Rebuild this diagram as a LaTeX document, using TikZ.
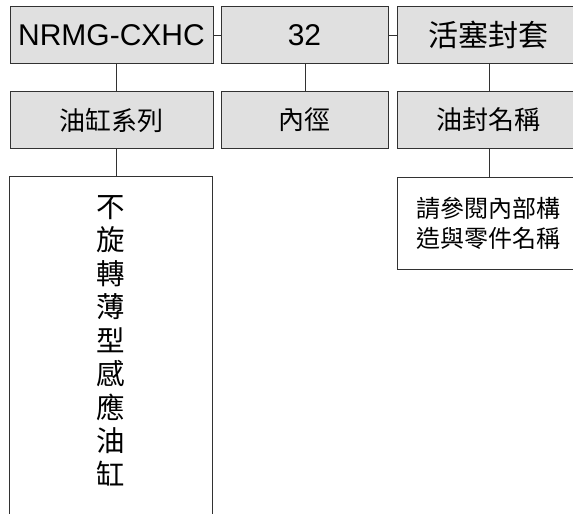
\documentclass[tikz,border=0pt]{standalone}
\usepackage{fontspec}
\setmainfont{Liberation Sans}
\newfontfamily\cjk{Noto Sans CJK TC}
\definecolor{boxgray}{RGB}{224,224,224}
\definecolor{linegray}{RGB}{50,50,50}
\begin{document}
\begin{tikzpicture}[x=1pt,y=1pt,
  graybox/.style={draw=linegray, line width=0.8pt, fill=boxgray, rectangle, inner sep=0pt, minimum height=57pt, text=black},
  whitebox/.style={draw=linegray, line width=0.8pt, fill=white, rectangle, inner sep=0pt, text=black},
  conn/.style={draw=linegray, line width=0.8pt}]
\useasboundingbox (0,0) rectangle (573,-514);
\fill[white] (0,0) rectangle (573,-514);
% row 1
\node[graybox, minimum width=203pt, font=\fontsize{30}{34}\selectfont] (b1) at (111.5,-35) {NRMG-CXHC};
\node[graybox, minimum width=167pt, font=\fontsize{30}{34}\selectfont] (b2) at (304.5,-35) {32};
\node[graybox, minimum width=183pt, font=\cjk\fontsize{30}{34}\selectfont] (b3) at (488.5,-35) {活塞封套};
% row 2
\node[graybox, minimum width=203pt, font=\cjk\fontsize{26}{30}\selectfont] (r1) at (111.5,-120) {油缸系列};
\node[graybox, minimum width=167pt, font=\cjk\fontsize{26}{30}\selectfont] (r2) at (304.5,-120) {內徑};
\node[graybox, minimum width=183pt, font=\cjk\fontsize{26}{30}\selectfont] (r3) at (488.5,-120) {油封名稱};
% row 3
\node[whitebox, minimum width=203pt, minimum height=370pt, anchor=north] (lb) at (110.5,-176) {};
\node[inner sep=0pt, align=center, anchor=north, font=\cjk\fontsize{28.5}{33.5}\selectfont] (lt) at (110.5,-195)
  {不\\旋\\轉\\薄\\型\\感\\應\\油\\缸};
\node[whitebox, minimum width=183pt, minimum height=92pt, align=center, font=\cjk\fontsize{24}{30}\selectfont] (rb) at (488.5,-223)
  {請參閱內部構\\造與零件名稱};
% connector x positions
\coordinate (c1) at (116,0);
\coordinate (c2) at (305,0);
\coordinate (c3) at (489,0);
\draw[conn] (b1.east) -- (b2.west);
\draw[conn] (b2.east) -- (b3.west);
\draw[conn] (b1.south -| c1) -- (r1.north -| c1);
\draw[conn] (b2.south -| c2) -- (r2.north -| c2);
\draw[conn] (b3.south -| c3) -- (r3.north -| c3);
\draw[conn] (r1.south -| c1) -- (lb.north -| c1);
\draw[conn] (r3.south -| c3) -- (rb.north -| c3);
\end{tikzpicture}
\end{document}
